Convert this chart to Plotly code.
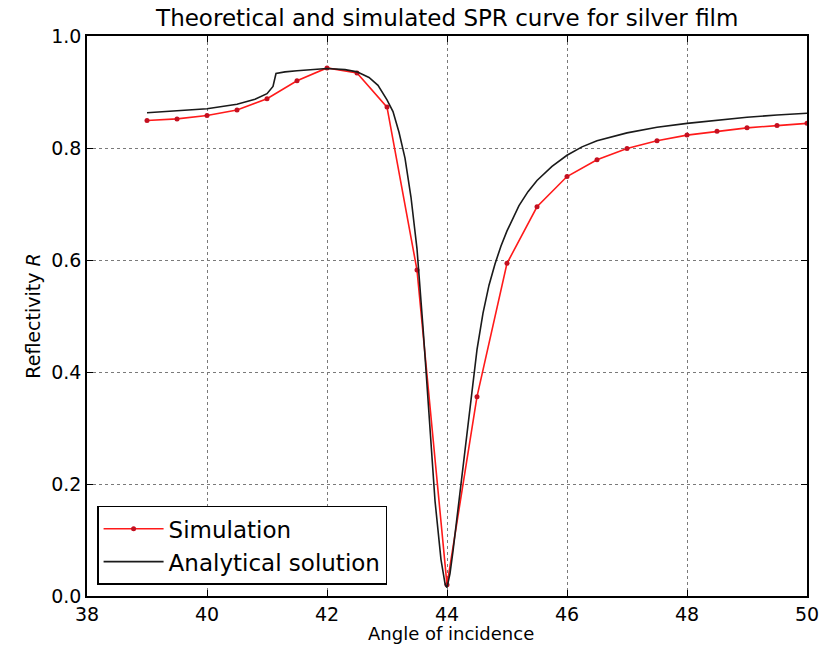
import plotly.graph_objects as go

# Simulated reflectivity sampled every 0.5 degrees
sim_angle = [39.0, 39.5, 40.0, 40.5, 41.0, 41.5, 42.0, 42.5, 43.0, 43.5, 44.0,
             44.5, 45.0, 45.5, 46.0, 46.5, 47.0, 47.5, 48.0, 48.5, 49.0, 49.5, 50.0]
sim_refl = [0.849, 0.852, 0.858, 0.868, 0.888, 0.920, 0.943, 0.934, 0.873, 0.582, 0.020,
            0.356, 0.594, 0.695, 0.749, 0.779, 0.799, 0.813, 0.823, 0.830, 0.836, 0.840, 0.844]

# Analytical (Fresnel) reflectivity curve
ana_angle = [39.0, 39.5, 40.0, 40.5, 40.8, 41.0, 41.1, 41.15, 41.3, 41.5, 41.8, 42.0,
             42.3, 42.5, 42.7, 42.85, 43.0, 43.1, 43.2, 43.3, 43.4, 43.5, 43.6, 43.7,
             43.8, 43.9, 43.97, 44.0, 44.05, 44.1, 44.2, 44.3, 44.4, 44.5, 44.6, 44.7,
             44.8, 44.9, 45.0, 45.1, 45.2, 45.35, 45.5, 45.75, 46.0, 46.25, 46.5, 47.0,
             47.5, 48.0, 48.5, 49.0, 49.5, 50.0]
ana_refl = [0.863, 0.866, 0.870, 0.878, 0.887, 0.897, 0.910, 0.933, 0.936, 0.938, 0.941, 0.942,
            0.940, 0.936, 0.926, 0.912, 0.886, 0.865, 0.828, 0.782, 0.712, 0.620, 0.480, 0.330,
            0.170, 0.065, 0.020, 0.015, 0.040, 0.080, 0.170, 0.265, 0.360, 0.440, 0.505, 0.555,
            0.593, 0.625, 0.652, 0.676, 0.697, 0.722, 0.742, 0.767, 0.787, 0.802, 0.813, 0.827,
            0.837, 0.844, 0.850, 0.855, 0.859, 0.862]

x_ticks = [38, 40, 42, 44, 46, 48, 50]
y_ticks = [0.0, 0.2, 0.4, 0.6, 0.8, 1.0]

FONT = "DejaVu Sans"

fig = go.Figure()
fig.add_trace(go.Scatter(
    x=sim_angle, y=sim_refl, mode="lines+markers", name="Simulation",
    line=dict(color="#ff1a1a", width=1.6),
    marker=dict(color="#c41020", size=5, line=dict(width=0)),
))
fig.add_trace(go.Scatter(
    x=ana_angle, y=ana_refl, mode="lines", name="Analytical solution",
    line=dict(color="#1a1a1a", width=1.6),
))

axis_common = dict(
    showline=True, linecolor="black", linewidth=1.5, mirror="ticks",
    ticks="inside", ticklen=6, tickwidth=1, tickcolor="black",
    showgrid=True, gridcolor="#7a7a7a", gridwidth=1, griddash="dot",
    zeroline=False, automargin=False,
    tickfont=dict(family=FONT, size=19, color="black"),
)

fig.update_xaxes(
    range=[38, 50], tickvals=x_ticks, ticktext=[str(v) for v in x_ticks],
    ticklabelstandoff=0,
    **axis_common,
)
fig.update_yaxes(
    range=[0, 1], tickvals=y_ticks, ticktext=[f"{v:.1f}" for v in y_ticks],
    title=dict(text="Reflectivity <i>R</i>", font=dict(family=FONT, size=19, color="black"),
               standoff=6),
    **axis_common,
)

# x-axis label placed just below the tick labels
fig.add_annotation(
    text="Angle of incidence", xref="paper", yref="paper",
    x=0.505, y=-0.067, xanchor="center", yanchor="middle", showarrow=False,
    font=dict(family=FONT, size=18, color="black"),
)

fig.update_layout(
    width=836, height=648,
    margin=dict(l=87, r=29, t=36, b=52),
    paper_bgcolor="white", plot_bgcolor="white",
    title=dict(text="Theoretical and simulated SPR curve for silver film",
               font=dict(family=FONT, size=23, color="black"),
               x=0.535, xanchor="center", y=0.972, yanchor="middle"),
    legend=dict(
        x=0.014, y=0.02, xanchor="left", yanchor="bottom",
        bordercolor="black", borderwidth=1.5, bgcolor="white",
        font=dict(family=FONT, size=23, color="black"),
        itemwidth=60, tracegroupgap=0,
    ),
    showlegend=True,
)

fig.write_html("out.html")
